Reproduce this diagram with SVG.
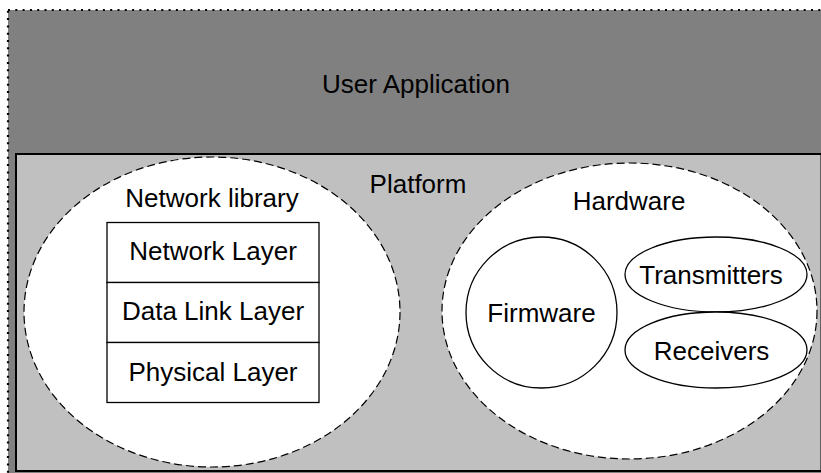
<svg xmlns="http://www.w3.org/2000/svg" width="821" height="473" viewBox="0 0 821 473">
<style>
text{font-family:"Liberation Sans",Arial,Helvetica,sans-serif;font-size:26px;fill:#000;text-anchor:middle}
.dash{fill:#fff;stroke:#000;stroke-width:1.2;stroke-dasharray:8 4}
.solid{fill:#fff;stroke:#000;stroke-width:1.3}
</style>
<g id="user-application">
<rect x="8" y="10" width="840" height="490" fill="#808080" stroke="#000" stroke-width="2.2" stroke-dasharray="2 5.3"/>
<text x="416" y="93">User Application</text>
</g>
<g id="platform">
<rect x="16" y="154" width="805.5" height="317" fill="#c0c0c0" stroke="#000" stroke-width="2"/>
<text x="418" y="193">Platform</text>
</g>
<g id="network-library">
<ellipse class="dash" cx="212" cy="312" rx="188" ry="155"/>
<text x="212" y="207">Network library</text>
</g>
<g id="network-layer">
<rect class="solid" x="107" y="222.5" width="212" height="60"/>
<text x="213" y="260">Network Layer</text>
</g>
<g id="data-link-layer">
<rect class="solid" x="107" y="282.5" width="212" height="60"/>
<text x="213" y="320">Data Link Layer</text>
</g>
<g id="physical-layer">
<rect class="solid" x="107" y="342.5" width="212" height="60"/>
<text x="213" y="381">Physical Layer</text>
</g>
<g id="hardware">
<ellipse class="dash" cx="629.5" cy="311" rx="187.5" ry="148"/>
<text x="629" y="210">Hardware</text>
</g>
<g id="firmware">
<circle class="solid" cx="541.5" cy="312.5" r="75.5"/>
<text x="541.5" y="321.5">Firmware</text>
</g>
<g id="transmitters">
<ellipse class="solid" cx="716" cy="274.5" rx="91" ry="37.5"/>
<text x="711" y="283.5">Transmitters</text>
</g>
<g id="receivers">
<ellipse class="solid" cx="716" cy="350" rx="91" ry="38"/>
<text x="711.5" y="360">Receivers</text>
</g>
<g id="connectors"></g>
</svg>
